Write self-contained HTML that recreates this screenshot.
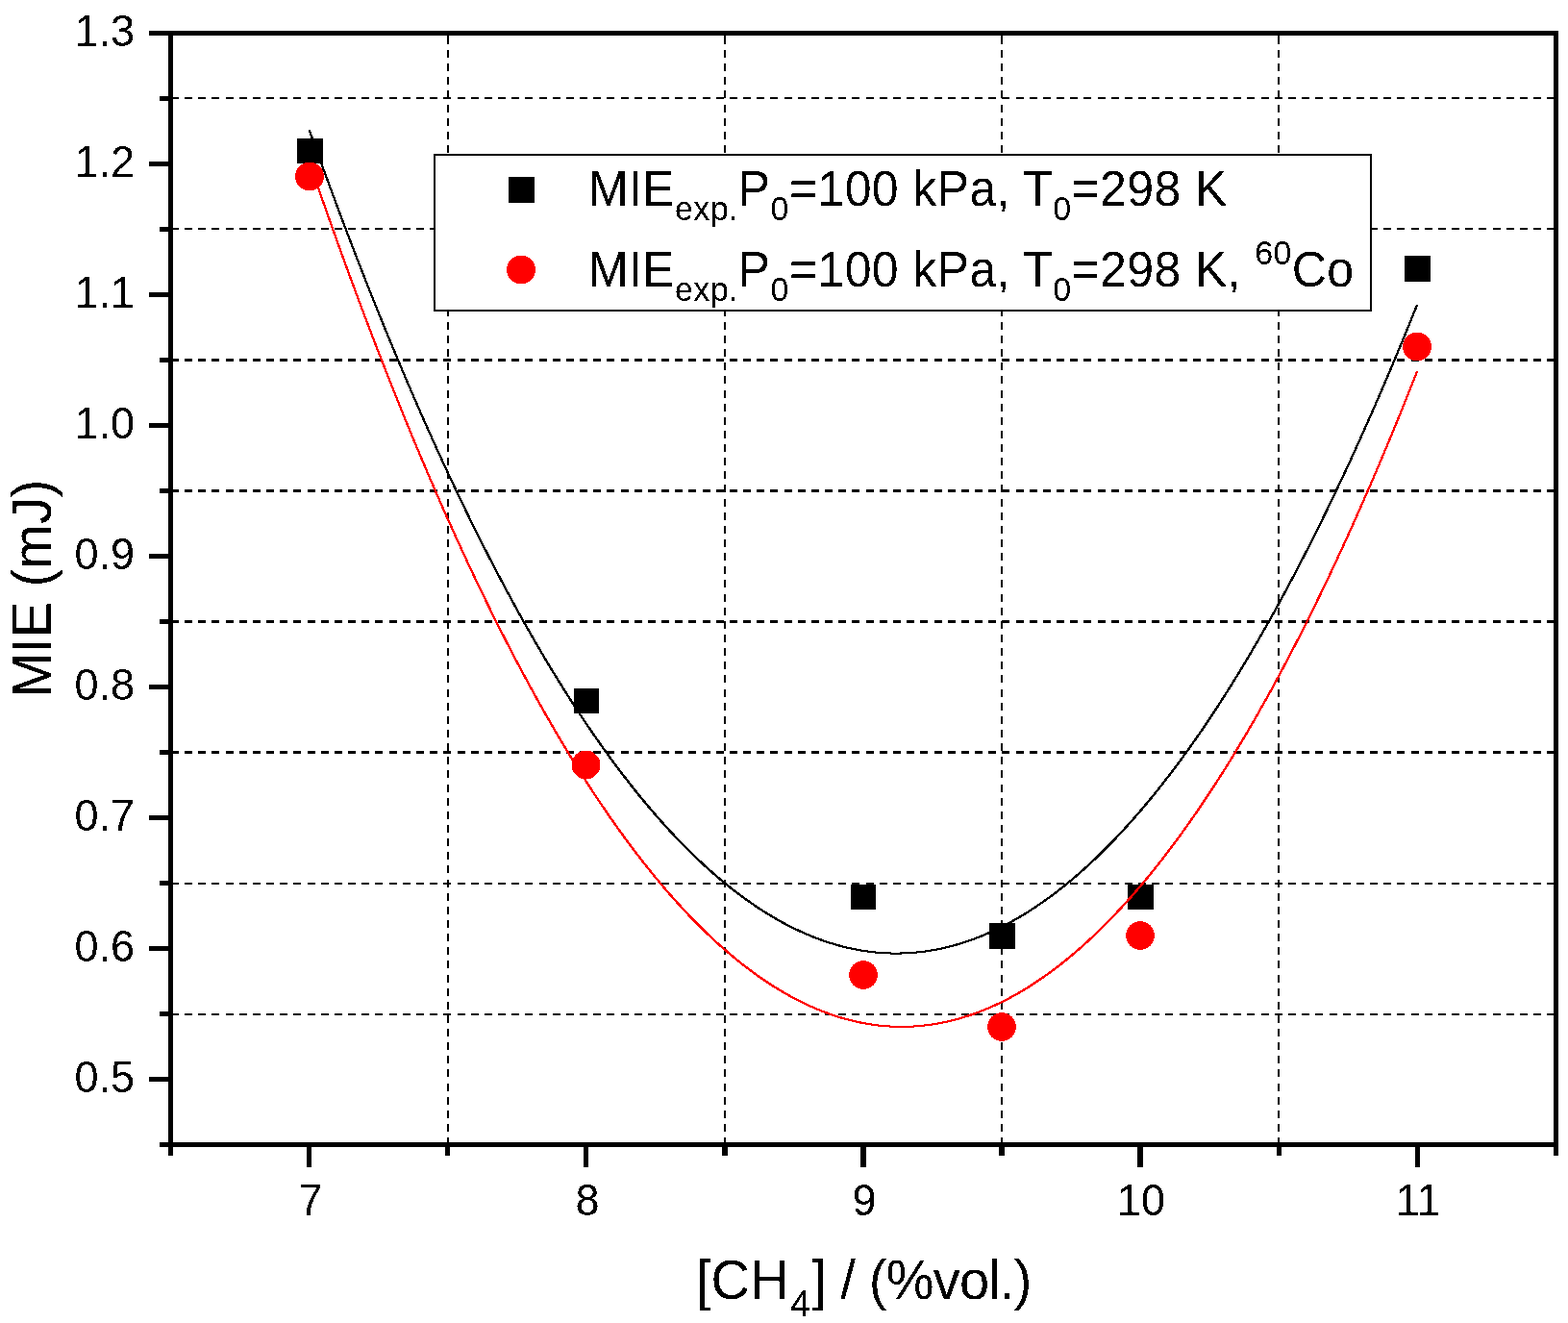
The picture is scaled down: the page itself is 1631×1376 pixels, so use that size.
<!DOCTYPE html>
<html><head><meta charset="utf-8"><title>MIE vs CH4</title><style>html,body{margin:0;padding:0;background:#fff;width:1631px;height:1376px;overflow:hidden}</style></head><body>
<svg width="1631" height="1376" viewBox="0 0 1631 1376" style="position:absolute;left:0;top:0;display:block">
<defs><filter id="bin" x="-5%" y="-5%" width="110%" height="110%"><feComponentTransfer><feFuncA type="discrete" tableValues="0 1"/></feComponentTransfer></filter></defs>
<rect width="1631" height="1376" fill="#fff"/>
<path fill="#000" shape-rendering="crispEdges" d="M180 101h6v2h-6zM192 101h8v2h-8zM206 101h8v2h-8zM220 101h8v2h-8zM235 101h8v2h-8zM249 101h8v2h-8zM263 101h8v2h-8zM277 101h8v2h-8zM291 101h8v2h-8zM305 101h8v2h-8zM320 101h8v2h-8zM334 101h8v2h-8zM348 101h8v2h-8zM362 101h8v2h-8zM376 101h8v2h-8zM390 101h8v2h-8zM405 101h8v2h-8zM419 101h8v2h-8zM433 101h8v2h-8zM447 101h8v2h-8zM461 101h8v2h-8zM476 101h8v2h-8zM490 101h8v2h-8zM504 101h8v2h-8zM518 101h8v2h-8zM532 101h8v2h-8zM546 101h8v2h-8zM561 101h8v2h-8zM575 101h8v2h-8zM589 101h8v2h-8zM603 101h8v2h-8zM617 101h8v2h-8zM631 101h8v2h-8zM646 101h8v2h-8zM660 101h8v2h-8zM674 101h8v2h-8zM688 101h8v2h-8zM702 101h8v2h-8zM716 101h8v2h-8zM731 101h8v2h-8zM745 101h8v2h-8zM759 101h8v2h-8zM773 101h8v2h-8zM787 101h8v2h-8zM801 101h8v2h-8zM816 101h8v2h-8zM830 101h8v2h-8zM844 101h8v2h-8zM858 101h8v2h-8zM872 101h8v2h-8zM886 101h8v2h-8zM901 101h8v2h-8zM915 101h8v2h-8zM929 101h8v2h-8zM943 101h8v2h-8zM957 101h8v2h-8zM972 101h8v2h-8zM986 101h8v2h-8zM1000 101h8v2h-8zM1014 101h8v2h-8zM1028 101h8v2h-8zM1042 101h8v2h-8zM1057 101h8v2h-8zM1071 101h8v2h-8zM1085 101h8v2h-8zM1099 101h8v2h-8zM1113 101h8v2h-8zM1127 101h8v2h-8zM1142 101h8v2h-8zM1156 101h8v2h-8zM1170 101h8v2h-8zM1184 101h8v2h-8zM1198 101h8v2h-8zM1212 101h8v2h-8zM1227 101h8v2h-8zM1241 101h8v2h-8zM1255 101h8v2h-8zM1269 101h8v2h-8zM1283 101h8v2h-8zM1297 101h8v2h-8zM1312 101h8v2h-8zM1326 101h8v2h-8zM1340 101h8v2h-8zM1354 101h8v2h-8zM1368 101h8v2h-8zM1383 101h8v2h-8zM1397 101h8v2h-8zM1411 101h8v2h-8zM1425 101h8v2h-8zM1439 101h8v2h-8zM1453 101h8v2h-8zM1468 101h8v2h-8zM1482 101h8v2h-8zM1496 101h8v2h-8zM1510 101h8v2h-8zM1524 101h8v2h-8zM1538 101h8v2h-8zM1553 101h8v2h-8zM1567 101h8v2h-8zM1581 101h8v2h-8zM1595 101h8v2h-8zM1609 101h7v2h-7zM180 237h6v2h-6zM192 237h8v2h-8zM206 237h8v2h-8zM220 237h8v2h-8zM235 237h8v2h-8zM249 237h8v2h-8zM263 237h8v2h-8zM277 237h8v2h-8zM291 237h8v2h-8zM305 237h8v2h-8zM320 237h8v2h-8zM334 237h8v2h-8zM348 237h8v2h-8zM362 237h8v2h-8zM376 237h8v2h-8zM390 237h8v2h-8zM405 237h8v2h-8zM419 237h8v2h-8zM433 237h8v2h-8zM447 237h8v2h-8zM461 237h8v2h-8zM476 237h8v2h-8zM490 237h8v2h-8zM504 237h8v2h-8zM518 237h8v2h-8zM532 237h8v2h-8zM546 237h8v2h-8zM561 237h8v2h-8zM575 237h8v2h-8zM589 237h8v2h-8zM603 237h8v2h-8zM617 237h8v2h-8zM631 237h8v2h-8zM646 237h8v2h-8zM660 237h8v2h-8zM674 237h8v2h-8zM688 237h8v2h-8zM702 237h8v2h-8zM716 237h8v2h-8zM731 237h8v2h-8zM745 237h8v2h-8zM759 237h8v2h-8zM773 237h8v2h-8zM787 237h8v2h-8zM801 237h8v2h-8zM816 237h8v2h-8zM830 237h8v2h-8zM844 237h8v2h-8zM858 237h8v2h-8zM872 237h8v2h-8zM886 237h8v2h-8zM901 237h8v2h-8zM915 237h8v2h-8zM929 237h8v2h-8zM943 237h8v2h-8zM957 237h8v2h-8zM972 237h8v2h-8zM986 237h8v2h-8zM1000 237h8v2h-8zM1014 237h8v2h-8zM1028 237h8v2h-8zM1042 237h8v2h-8zM1057 237h8v2h-8zM1071 237h8v2h-8zM1085 237h8v2h-8zM1099 237h8v2h-8zM1113 237h8v2h-8zM1127 237h8v2h-8zM1142 237h8v2h-8zM1156 237h8v2h-8zM1170 237h8v2h-8zM1184 237h8v2h-8zM1198 237h8v2h-8zM1212 237h8v2h-8zM1227 237h8v2h-8zM1241 237h8v2h-8zM1255 237h8v2h-8zM1269 237h8v2h-8zM1283 237h8v2h-8zM1297 237h8v2h-8zM1312 237h8v2h-8zM1326 237h8v2h-8zM1340 237h8v2h-8zM1354 237h8v2h-8zM1368 237h8v2h-8zM1383 237h8v2h-8zM1397 237h8v2h-8zM1411 237h8v2h-8zM1425 237h8v2h-8zM1439 237h8v2h-8zM1453 237h8v2h-8zM1468 237h8v2h-8zM1482 237h8v2h-8zM1496 237h8v2h-8zM1510 237h8v2h-8zM1524 237h8v2h-8zM1538 237h8v2h-8zM1553 237h8v2h-8zM1567 237h8v2h-8zM1581 237h8v2h-8zM1595 237h8v2h-8zM1609 237h7v2h-7zM180 373h6v3h-6zM192 373h8v3h-8zM206 373h8v3h-8zM220 373h8v3h-8zM235 373h8v3h-8zM249 373h8v3h-8zM263 373h8v3h-8zM277 373h8v3h-8zM291 373h8v3h-8zM305 373h8v3h-8zM320 373h8v3h-8zM334 373h8v3h-8zM348 373h8v3h-8zM362 373h8v3h-8zM376 373h8v3h-8zM390 373h8v3h-8zM405 373h8v3h-8zM419 373h8v3h-8zM433 373h8v3h-8zM447 373h8v3h-8zM461 373h8v3h-8zM476 373h8v3h-8zM490 373h8v3h-8zM504 373h8v3h-8zM518 373h8v3h-8zM532 373h8v3h-8zM546 373h8v3h-8zM561 373h8v3h-8zM575 373h8v3h-8zM589 373h8v3h-8zM603 373h8v3h-8zM617 373h8v3h-8zM631 373h8v3h-8zM646 373h8v3h-8zM660 373h8v3h-8zM674 373h8v3h-8zM688 373h8v3h-8zM702 373h8v3h-8zM716 373h8v3h-8zM731 373h8v3h-8zM745 373h8v3h-8zM759 373h8v3h-8zM773 373h8v3h-8zM787 373h8v3h-8zM801 373h8v3h-8zM816 373h8v3h-8zM830 373h8v3h-8zM844 373h8v3h-8zM858 373h8v3h-8zM872 373h8v3h-8zM886 373h8v3h-8zM901 373h8v3h-8zM915 373h8v3h-8zM929 373h8v3h-8zM943 373h8v3h-8zM957 373h8v3h-8zM972 373h8v3h-8zM986 373h8v3h-8zM1000 373h8v3h-8zM1014 373h8v3h-8zM1028 373h8v3h-8zM1042 373h8v3h-8zM1057 373h8v3h-8zM1071 373h8v3h-8zM1085 373h8v3h-8zM1099 373h8v3h-8zM1113 373h8v3h-8zM1127 373h8v3h-8zM1142 373h8v3h-8zM1156 373h8v3h-8zM1170 373h8v3h-8zM1184 373h8v3h-8zM1198 373h8v3h-8zM1212 373h8v3h-8zM1227 373h8v3h-8zM1241 373h8v3h-8zM1255 373h8v3h-8zM1269 373h8v3h-8zM1283 373h8v3h-8zM1297 373h8v3h-8zM1312 373h8v3h-8zM1326 373h8v3h-8zM1340 373h8v3h-8zM1354 373h8v3h-8zM1368 373h8v3h-8zM1383 373h8v3h-8zM1397 373h8v3h-8zM1411 373h8v3h-8zM1425 373h8v3h-8zM1439 373h8v3h-8zM1453 373h8v3h-8zM1468 373h8v3h-8zM1482 373h8v3h-8zM1496 373h8v3h-8zM1510 373h8v3h-8zM1524 373h8v3h-8zM1538 373h8v3h-8zM1553 373h8v3h-8zM1567 373h8v3h-8zM1581 373h8v3h-8zM1595 373h8v3h-8zM1609 373h7v3h-7zM180 509h6v3h-6zM192 509h8v3h-8zM206 509h8v3h-8zM220 509h8v3h-8zM235 509h8v3h-8zM249 509h8v3h-8zM263 509h8v3h-8zM277 509h8v3h-8zM291 509h8v3h-8zM305 509h8v3h-8zM320 509h8v3h-8zM334 509h8v3h-8zM348 509h8v3h-8zM362 509h8v3h-8zM376 509h8v3h-8zM390 509h8v3h-8zM405 509h8v3h-8zM419 509h8v3h-8zM433 509h8v3h-8zM447 509h8v3h-8zM461 509h8v3h-8zM476 509h8v3h-8zM490 509h8v3h-8zM504 509h8v3h-8zM518 509h8v3h-8zM532 509h8v3h-8zM546 509h8v3h-8zM561 509h8v3h-8zM575 509h8v3h-8zM589 509h8v3h-8zM603 509h8v3h-8zM617 509h8v3h-8zM631 509h8v3h-8zM646 509h8v3h-8zM660 509h8v3h-8zM674 509h8v3h-8zM688 509h8v3h-8zM702 509h8v3h-8zM716 509h8v3h-8zM731 509h8v3h-8zM745 509h8v3h-8zM759 509h8v3h-8zM773 509h8v3h-8zM787 509h8v3h-8zM801 509h8v3h-8zM816 509h8v3h-8zM830 509h8v3h-8zM844 509h8v3h-8zM858 509h8v3h-8zM872 509h8v3h-8zM886 509h8v3h-8zM901 509h8v3h-8zM915 509h8v3h-8zM929 509h8v3h-8zM943 509h8v3h-8zM957 509h8v3h-8zM972 509h8v3h-8zM986 509h8v3h-8zM1000 509h8v3h-8zM1014 509h8v3h-8zM1028 509h8v3h-8zM1042 509h8v3h-8zM1057 509h8v3h-8zM1071 509h8v3h-8zM1085 509h8v3h-8zM1099 509h8v3h-8zM1113 509h8v3h-8zM1127 509h8v3h-8zM1142 509h8v3h-8zM1156 509h8v3h-8zM1170 509h8v3h-8zM1184 509h8v3h-8zM1198 509h8v3h-8zM1212 509h8v3h-8zM1227 509h8v3h-8zM1241 509h8v3h-8zM1255 509h8v3h-8zM1269 509h8v3h-8zM1283 509h8v3h-8zM1297 509h8v3h-8zM1312 509h8v3h-8zM1326 509h8v3h-8zM1340 509h8v3h-8zM1354 509h8v3h-8zM1368 509h8v3h-8zM1383 509h8v3h-8zM1397 509h8v3h-8zM1411 509h8v3h-8zM1425 509h8v3h-8zM1439 509h8v3h-8zM1453 509h8v3h-8zM1468 509h8v3h-8zM1482 509h8v3h-8zM1496 509h8v3h-8zM1510 509h8v3h-8zM1524 509h8v3h-8zM1538 509h8v3h-8zM1553 509h8v3h-8zM1567 509h8v3h-8zM1581 509h8v3h-8zM1595 509h8v3h-8zM1609 509h7v3h-7zM180 645h6v3h-6zM192 645h8v3h-8zM206 645h8v3h-8zM220 645h8v3h-8zM235 645h8v3h-8zM249 645h8v3h-8zM263 645h8v3h-8zM277 645h8v3h-8zM291 645h8v3h-8zM305 645h8v3h-8zM320 645h8v3h-8zM334 645h8v3h-8zM348 645h8v3h-8zM362 645h8v3h-8zM376 645h8v3h-8zM390 645h8v3h-8zM405 645h8v3h-8zM419 645h8v3h-8zM433 645h8v3h-8zM447 645h8v3h-8zM461 645h8v3h-8zM476 645h8v3h-8zM490 645h8v3h-8zM504 645h8v3h-8zM518 645h8v3h-8zM532 645h8v3h-8zM546 645h8v3h-8zM561 645h8v3h-8zM575 645h8v3h-8zM589 645h8v3h-8zM603 645h8v3h-8zM617 645h8v3h-8zM631 645h8v3h-8zM646 645h8v3h-8zM660 645h8v3h-8zM674 645h8v3h-8zM688 645h8v3h-8zM702 645h8v3h-8zM716 645h8v3h-8zM731 645h8v3h-8zM745 645h8v3h-8zM759 645h8v3h-8zM773 645h8v3h-8zM787 645h8v3h-8zM801 645h8v3h-8zM816 645h8v3h-8zM830 645h8v3h-8zM844 645h8v3h-8zM858 645h8v3h-8zM872 645h8v3h-8zM886 645h8v3h-8zM901 645h8v3h-8zM915 645h8v3h-8zM929 645h8v3h-8zM943 645h8v3h-8zM957 645h8v3h-8zM972 645h8v3h-8zM986 645h8v3h-8zM1000 645h8v3h-8zM1014 645h8v3h-8zM1028 645h8v3h-8zM1042 645h8v3h-8zM1057 645h8v3h-8zM1071 645h8v3h-8zM1085 645h8v3h-8zM1099 645h8v3h-8zM1113 645h8v3h-8zM1127 645h8v3h-8zM1142 645h8v3h-8zM1156 645h8v3h-8zM1170 645h8v3h-8zM1184 645h8v3h-8zM1198 645h8v3h-8zM1212 645h8v3h-8zM1227 645h8v3h-8zM1241 645h8v3h-8zM1255 645h8v3h-8zM1269 645h8v3h-8zM1283 645h8v3h-8zM1297 645h8v3h-8zM1312 645h8v3h-8zM1326 645h8v3h-8zM1340 645h8v3h-8zM1354 645h8v3h-8zM1368 645h8v3h-8zM1383 645h8v3h-8zM1397 645h8v3h-8zM1411 645h8v3h-8zM1425 645h8v3h-8zM1439 645h8v3h-8zM1453 645h8v3h-8zM1468 645h8v3h-8zM1482 645h8v3h-8zM1496 645h8v3h-8zM1510 645h8v3h-8zM1524 645h8v3h-8zM1538 645h8v3h-8zM1553 645h8v3h-8zM1567 645h8v3h-8zM1581 645h8v3h-8zM1595 645h8v3h-8zM1609 645h7v3h-7zM180 781h6v3h-6zM192 781h8v3h-8zM206 781h8v3h-8zM220 781h8v3h-8zM235 781h8v3h-8zM249 781h8v3h-8zM263 781h8v3h-8zM277 781h8v3h-8zM291 781h8v3h-8zM305 781h8v3h-8zM320 781h8v3h-8zM334 781h8v3h-8zM348 781h8v3h-8zM362 781h8v3h-8zM376 781h8v3h-8zM390 781h8v3h-8zM405 781h8v3h-8zM419 781h8v3h-8zM433 781h8v3h-8zM447 781h8v3h-8zM461 781h8v3h-8zM476 781h8v3h-8zM490 781h8v3h-8zM504 781h8v3h-8zM518 781h8v3h-8zM532 781h8v3h-8zM546 781h8v3h-8zM561 781h8v3h-8zM575 781h8v3h-8zM589 781h8v3h-8zM603 781h8v3h-8zM617 781h8v3h-8zM631 781h8v3h-8zM646 781h8v3h-8zM660 781h8v3h-8zM674 781h8v3h-8zM688 781h8v3h-8zM702 781h8v3h-8zM716 781h8v3h-8zM731 781h8v3h-8zM745 781h8v3h-8zM759 781h8v3h-8zM773 781h8v3h-8zM787 781h8v3h-8zM801 781h8v3h-8zM816 781h8v3h-8zM830 781h8v3h-8zM844 781h8v3h-8zM858 781h8v3h-8zM872 781h8v3h-8zM886 781h8v3h-8zM901 781h8v3h-8zM915 781h8v3h-8zM929 781h8v3h-8zM943 781h8v3h-8zM957 781h8v3h-8zM972 781h8v3h-8zM986 781h8v3h-8zM1000 781h8v3h-8zM1014 781h8v3h-8zM1028 781h8v3h-8zM1042 781h8v3h-8zM1057 781h8v3h-8zM1071 781h8v3h-8zM1085 781h8v3h-8zM1099 781h8v3h-8zM1113 781h8v3h-8zM1127 781h8v3h-8zM1142 781h8v3h-8zM1156 781h8v3h-8zM1170 781h8v3h-8zM1184 781h8v3h-8zM1198 781h8v3h-8zM1212 781h8v3h-8zM1227 781h8v3h-8zM1241 781h8v3h-8zM1255 781h8v3h-8zM1269 781h8v3h-8zM1283 781h8v3h-8zM1297 781h8v3h-8zM1312 781h8v3h-8zM1326 781h8v3h-8zM1340 781h8v3h-8zM1354 781h8v3h-8zM1368 781h8v3h-8zM1383 781h8v3h-8zM1397 781h8v3h-8zM1411 781h8v3h-8zM1425 781h8v3h-8zM1439 781h8v3h-8zM1453 781h8v3h-8zM1468 781h8v3h-8zM1482 781h8v3h-8zM1496 781h8v3h-8zM1510 781h8v3h-8zM1524 781h8v3h-8zM1538 781h8v3h-8zM1553 781h8v3h-8zM1567 781h8v3h-8zM1581 781h8v3h-8zM1595 781h8v3h-8zM1609 781h7v3h-7zM180 918h6v2h-6zM192 918h8v2h-8zM206 918h8v2h-8zM220 918h8v2h-8zM235 918h8v2h-8zM249 918h8v2h-8zM263 918h8v2h-8zM277 918h8v2h-8zM291 918h8v2h-8zM305 918h8v2h-8zM320 918h8v2h-8zM334 918h8v2h-8zM348 918h8v2h-8zM362 918h8v2h-8zM376 918h8v2h-8zM390 918h8v2h-8zM405 918h8v2h-8zM419 918h8v2h-8zM433 918h8v2h-8zM447 918h8v2h-8zM461 918h8v2h-8zM476 918h8v2h-8zM490 918h8v2h-8zM504 918h8v2h-8zM518 918h8v2h-8zM532 918h8v2h-8zM546 918h8v2h-8zM561 918h8v2h-8zM575 918h8v2h-8zM589 918h8v2h-8zM603 918h8v2h-8zM617 918h8v2h-8zM631 918h8v2h-8zM646 918h8v2h-8zM660 918h8v2h-8zM674 918h8v2h-8zM688 918h8v2h-8zM702 918h8v2h-8zM716 918h8v2h-8zM731 918h8v2h-8zM745 918h8v2h-8zM759 918h8v2h-8zM773 918h8v2h-8zM787 918h8v2h-8zM801 918h8v2h-8zM816 918h8v2h-8zM830 918h8v2h-8zM844 918h8v2h-8zM858 918h8v2h-8zM872 918h8v2h-8zM886 918h8v2h-8zM901 918h8v2h-8zM915 918h8v2h-8zM929 918h8v2h-8zM943 918h8v2h-8zM957 918h8v2h-8zM972 918h8v2h-8zM986 918h8v2h-8zM1000 918h8v2h-8zM1014 918h8v2h-8zM1028 918h8v2h-8zM1042 918h8v2h-8zM1057 918h8v2h-8zM1071 918h8v2h-8zM1085 918h8v2h-8zM1099 918h8v2h-8zM1113 918h8v2h-8zM1127 918h8v2h-8zM1142 918h8v2h-8zM1156 918h8v2h-8zM1170 918h8v2h-8zM1184 918h8v2h-8zM1198 918h8v2h-8zM1212 918h8v2h-8zM1227 918h8v2h-8zM1241 918h8v2h-8zM1255 918h8v2h-8zM1269 918h8v2h-8zM1283 918h8v2h-8zM1297 918h8v2h-8zM1312 918h8v2h-8zM1326 918h8v2h-8zM1340 918h8v2h-8zM1354 918h8v2h-8zM1368 918h8v2h-8zM1383 918h8v2h-8zM1397 918h8v2h-8zM1411 918h8v2h-8zM1425 918h8v2h-8zM1439 918h8v2h-8zM1453 918h8v2h-8zM1468 918h8v2h-8zM1482 918h8v2h-8zM1496 918h8v2h-8zM1510 918h8v2h-8zM1524 918h8v2h-8zM1538 918h8v2h-8zM1553 918h8v2h-8zM1567 918h8v2h-8zM1581 918h8v2h-8zM1595 918h8v2h-8zM1609 918h7v2h-7zM180 1054h6v2h-6zM192 1054h8v2h-8zM206 1054h8v2h-8zM220 1054h8v2h-8zM235 1054h8v2h-8zM249 1054h8v2h-8zM263 1054h8v2h-8zM277 1054h8v2h-8zM291 1054h8v2h-8zM305 1054h8v2h-8zM320 1054h8v2h-8zM334 1054h8v2h-8zM348 1054h8v2h-8zM362 1054h8v2h-8zM376 1054h8v2h-8zM390 1054h8v2h-8zM405 1054h8v2h-8zM419 1054h8v2h-8zM433 1054h8v2h-8zM447 1054h8v2h-8zM461 1054h8v2h-8zM476 1054h8v2h-8zM490 1054h8v2h-8zM504 1054h8v2h-8zM518 1054h8v2h-8zM532 1054h8v2h-8zM546 1054h8v2h-8zM561 1054h8v2h-8zM575 1054h8v2h-8zM589 1054h8v2h-8zM603 1054h8v2h-8zM617 1054h8v2h-8zM631 1054h8v2h-8zM646 1054h8v2h-8zM660 1054h8v2h-8zM674 1054h8v2h-8zM688 1054h8v2h-8zM702 1054h8v2h-8zM716 1054h8v2h-8zM731 1054h8v2h-8zM745 1054h8v2h-8zM759 1054h8v2h-8zM773 1054h8v2h-8zM787 1054h8v2h-8zM801 1054h8v2h-8zM816 1054h8v2h-8zM830 1054h8v2h-8zM844 1054h8v2h-8zM858 1054h8v2h-8zM872 1054h8v2h-8zM886 1054h8v2h-8zM901 1054h8v2h-8zM915 1054h8v2h-8zM929 1054h8v2h-8zM943 1054h8v2h-8zM957 1054h8v2h-8zM972 1054h8v2h-8zM986 1054h8v2h-8zM1000 1054h8v2h-8zM1014 1054h8v2h-8zM1028 1054h8v2h-8zM1042 1054h8v2h-8zM1057 1054h8v2h-8zM1071 1054h8v2h-8zM1085 1054h8v2h-8zM1099 1054h8v2h-8zM1113 1054h8v2h-8zM1127 1054h8v2h-8zM1142 1054h8v2h-8zM1156 1054h8v2h-8zM1170 1054h8v2h-8zM1184 1054h8v2h-8zM1198 1054h8v2h-8zM1212 1054h8v2h-8zM1227 1054h8v2h-8zM1241 1054h8v2h-8zM1255 1054h8v2h-8zM1269 1054h8v2h-8zM1283 1054h8v2h-8zM1297 1054h8v2h-8zM1312 1054h8v2h-8zM1326 1054h8v2h-8zM1340 1054h8v2h-8zM1354 1054h8v2h-8zM1368 1054h8v2h-8zM1383 1054h8v2h-8zM1397 1054h8v2h-8zM1411 1054h8v2h-8zM1425 1054h8v2h-8zM1439 1054h8v2h-8zM1453 1054h8v2h-8zM1468 1054h8v2h-8zM1482 1054h8v2h-8zM1496 1054h8v2h-8zM1510 1054h8v2h-8zM1524 1054h8v2h-8zM1538 1054h8v2h-8zM1553 1054h8v2h-8zM1567 1054h8v2h-8zM1581 1054h8v2h-8zM1595 1054h8v2h-8zM1609 1054h7v2h-7zM465 37h2v9h-2zM465 52h2v8h-2zM465 66h2v8h-2zM465 80h2v8h-2zM465 94h2v8h-2zM465 109h2v8h-2zM465 123h2v8h-2zM465 137h2v8h-2zM465 151h2v8h-2zM465 165h2v8h-2zM465 179h2v8h-2zM465 193h2v8h-2zM465 208h2v8h-2zM465 222h2v8h-2zM465 236h2v8h-2zM465 250h2v8h-2zM465 264h2v8h-2zM465 278h2v8h-2zM465 292h2v8h-2zM465 307h2v8h-2zM465 321h2v8h-2zM465 335h2v8h-2zM465 349h2v8h-2zM465 363h2v8h-2zM465 377h2v8h-2zM465 391h2v8h-2zM465 406h2v8h-2zM465 420h2v8h-2zM465 434h2v8h-2zM465 448h2v8h-2zM465 462h2v8h-2zM465 476h2v8h-2zM465 490h2v8h-2zM465 504h2v8h-2zM465 519h2v8h-2zM465 533h2v8h-2zM465 547h2v8h-2zM465 561h2v8h-2zM465 575h2v8h-2zM465 589h2v8h-2zM465 603h2v8h-2zM465 618h2v8h-2zM465 632h2v8h-2zM465 646h2v8h-2zM465 660h2v8h-2zM465 674h2v8h-2zM465 688h2v8h-2zM465 702h2v8h-2zM465 717h2v8h-2zM465 731h2v8h-2zM465 745h2v8h-2zM465 759h2v8h-2zM465 773h2v8h-2zM465 787h2v8h-2zM465 801h2v8h-2zM465 816h2v8h-2zM465 830h2v8h-2zM465 844h2v8h-2zM465 858h2v8h-2zM465 872h2v8h-2zM465 886h2v8h-2zM465 900h2v8h-2zM465 915h2v8h-2zM465 929h2v8h-2zM465 943h2v8h-2zM465 957h2v8h-2zM465 971h2v8h-2zM465 985h2v8h-2zM465 999h2v8h-2zM465 1014h2v8h-2zM465 1028h2v8h-2zM465 1042h2v8h-2zM465 1056h2v8h-2zM465 1070h2v8h-2zM465 1084h2v8h-2zM465 1098h2v8h-2zM465 1112h2v8h-2zM465 1127h2v8h-2zM465 1141h2v8h-2zM465 1155h2v8h-2zM465 1169h2v8h-2zM465 1183h2v5h-2zM753 37h2v9h-2zM753 52h2v8h-2zM753 66h2v8h-2zM753 80h2v8h-2zM753 94h2v8h-2zM753 109h2v8h-2zM753 123h2v8h-2zM753 137h2v8h-2zM753 151h2v8h-2zM753 165h2v8h-2zM753 179h2v8h-2zM753 193h2v8h-2zM753 208h2v8h-2zM753 222h2v8h-2zM753 236h2v8h-2zM753 250h2v8h-2zM753 264h2v8h-2zM753 278h2v8h-2zM753 292h2v8h-2zM753 307h2v8h-2zM753 321h2v8h-2zM753 335h2v8h-2zM753 349h2v8h-2zM753 363h2v8h-2zM753 377h2v8h-2zM753 391h2v8h-2zM753 406h2v8h-2zM753 420h2v8h-2zM753 434h2v8h-2zM753 448h2v8h-2zM753 462h2v8h-2zM753 476h2v8h-2zM753 490h2v8h-2zM753 504h2v8h-2zM753 519h2v8h-2zM753 533h2v8h-2zM753 547h2v8h-2zM753 561h2v8h-2zM753 575h2v8h-2zM753 589h2v8h-2zM753 603h2v8h-2zM753 618h2v8h-2zM753 632h2v8h-2zM753 646h2v8h-2zM753 660h2v8h-2zM753 674h2v8h-2zM753 688h2v8h-2zM753 702h2v8h-2zM753 717h2v8h-2zM753 731h2v8h-2zM753 745h2v8h-2zM753 759h2v8h-2zM753 773h2v8h-2zM753 787h2v8h-2zM753 801h2v8h-2zM753 816h2v8h-2zM753 830h2v8h-2zM753 844h2v8h-2zM753 858h2v8h-2zM753 872h2v8h-2zM753 886h2v8h-2zM753 900h2v8h-2zM753 915h2v8h-2zM753 929h2v8h-2zM753 943h2v8h-2zM753 957h2v8h-2zM753 971h2v8h-2zM753 985h2v8h-2zM753 999h2v8h-2zM753 1014h2v8h-2zM753 1028h2v8h-2zM753 1042h2v8h-2zM753 1056h2v8h-2zM753 1070h2v8h-2zM753 1084h2v8h-2zM753 1098h2v8h-2zM753 1112h2v8h-2zM753 1127h2v8h-2zM753 1141h2v8h-2zM753 1155h2v8h-2zM753 1169h2v8h-2zM753 1183h2v5h-2zM1041 37h2v9h-2zM1041 52h2v8h-2zM1041 66h2v8h-2zM1041 80h2v8h-2zM1041 94h2v8h-2zM1041 109h2v8h-2zM1041 123h2v8h-2zM1041 137h2v8h-2zM1041 151h2v8h-2zM1041 165h2v8h-2zM1041 179h2v8h-2zM1041 193h2v8h-2zM1041 208h2v8h-2zM1041 222h2v8h-2zM1041 236h2v8h-2zM1041 250h2v8h-2zM1041 264h2v8h-2zM1041 278h2v8h-2zM1041 292h2v8h-2zM1041 307h2v8h-2zM1041 321h2v8h-2zM1041 335h2v8h-2zM1041 349h2v8h-2zM1041 363h2v8h-2zM1041 377h2v8h-2zM1041 391h2v8h-2zM1041 406h2v8h-2zM1041 420h2v8h-2zM1041 434h2v8h-2zM1041 448h2v8h-2zM1041 462h2v8h-2zM1041 476h2v8h-2zM1041 490h2v8h-2zM1041 504h2v8h-2zM1041 519h2v8h-2zM1041 533h2v8h-2zM1041 547h2v8h-2zM1041 561h2v8h-2zM1041 575h2v8h-2zM1041 589h2v8h-2zM1041 603h2v8h-2zM1041 618h2v8h-2zM1041 632h2v8h-2zM1041 646h2v8h-2zM1041 660h2v8h-2zM1041 674h2v8h-2zM1041 688h2v8h-2zM1041 702h2v8h-2zM1041 717h2v8h-2zM1041 731h2v8h-2zM1041 745h2v8h-2zM1041 759h2v8h-2zM1041 773h2v8h-2zM1041 787h2v8h-2zM1041 801h2v8h-2zM1041 816h2v8h-2zM1041 830h2v8h-2zM1041 844h2v8h-2zM1041 858h2v8h-2zM1041 872h2v8h-2zM1041 886h2v8h-2zM1041 900h2v8h-2zM1041 915h2v8h-2zM1041 929h2v8h-2zM1041 943h2v8h-2zM1041 957h2v8h-2zM1041 971h2v8h-2zM1041 985h2v8h-2zM1041 999h2v8h-2zM1041 1014h2v8h-2zM1041 1028h2v8h-2zM1041 1042h2v8h-2zM1041 1056h2v8h-2zM1041 1070h2v8h-2zM1041 1084h2v8h-2zM1041 1098h2v8h-2zM1041 1112h2v8h-2zM1041 1127h2v8h-2zM1041 1141h2v8h-2zM1041 1155h2v8h-2zM1041 1169h2v8h-2zM1041 1183h2v5h-2zM1329 37h2v9h-2zM1329 52h2v8h-2zM1329 66h2v8h-2zM1329 80h2v8h-2zM1329 94h2v8h-2zM1329 109h2v8h-2zM1329 123h2v8h-2zM1329 137h2v8h-2zM1329 151h2v8h-2zM1329 165h2v8h-2zM1329 179h2v8h-2zM1329 193h2v8h-2zM1329 208h2v8h-2zM1329 222h2v8h-2zM1329 236h2v8h-2zM1329 250h2v8h-2zM1329 264h2v8h-2zM1329 278h2v8h-2zM1329 292h2v8h-2zM1329 307h2v8h-2zM1329 321h2v8h-2zM1329 335h2v8h-2zM1329 349h2v8h-2zM1329 363h2v8h-2zM1329 377h2v8h-2zM1329 391h2v8h-2zM1329 406h2v8h-2zM1329 420h2v8h-2zM1329 434h2v8h-2zM1329 448h2v8h-2zM1329 462h2v8h-2zM1329 476h2v8h-2zM1329 490h2v8h-2zM1329 504h2v8h-2zM1329 519h2v8h-2zM1329 533h2v8h-2zM1329 547h2v8h-2zM1329 561h2v8h-2zM1329 575h2v8h-2zM1329 589h2v8h-2zM1329 603h2v8h-2zM1329 618h2v8h-2zM1329 632h2v8h-2zM1329 646h2v8h-2zM1329 660h2v8h-2zM1329 674h2v8h-2zM1329 688h2v8h-2zM1329 702h2v8h-2zM1329 717h2v8h-2zM1329 731h2v8h-2zM1329 745h2v8h-2zM1329 759h2v8h-2zM1329 773h2v8h-2zM1329 787h2v8h-2zM1329 801h2v8h-2zM1329 816h2v8h-2zM1329 830h2v8h-2zM1329 844h2v8h-2zM1329 858h2v8h-2zM1329 872h2v8h-2zM1329 886h2v8h-2zM1329 900h2v8h-2zM1329 915h2v8h-2zM1329 929h2v8h-2zM1329 943h2v8h-2zM1329 957h2v8h-2zM1329 971h2v8h-2zM1329 985h2v8h-2zM1329 999h2v8h-2zM1329 1014h2v8h-2zM1329 1028h2v8h-2zM1329 1042h2v8h-2zM1329 1056h2v8h-2zM1329 1070h2v8h-2zM1329 1084h2v8h-2zM1329 1098h2v8h-2zM1329 1112h2v8h-2zM1329 1127h2v8h-2zM1329 1141h2v8h-2zM1329 1155h2v8h-2zM1329 1169h2v8h-2zM1329 1183h2v5h-2z"/>
<rect x="309" y="144" width="27" height="26" fill="#000"/>
<rect x="597" y="716" width="26" height="26" fill="#000"/>
<rect x="885" y="920" width="26" height="26" fill="#000"/>
<rect x="1029" y="960" width="27" height="27" fill="#000"/>
<rect x="1173" y="920" width="27" height="26" fill="#000"/>
<rect x="1461" y="266" width="27" height="27" fill="#000"/>
<circle cx="322" cy="183.5" r="14.9" fill="#f00" shape-rendering="crispEdges"/>
<circle cx="609.5" cy="795.5" r="14.9" fill="#f00" shape-rendering="crispEdges"/>
<circle cx="898" cy="1014" r="14.9" fill="#f00" shape-rendering="crispEdges"/>
<circle cx="1042" cy="1068" r="14.9" fill="#f00" shape-rendering="crispEdges"/>
<circle cx="1186" cy="973" r="14.9" fill="#f00" shape-rendering="crispEdges"/>
<circle cx="1474" cy="360.5" r="14.9" fill="#f00" shape-rendering="crispEdges"/>
<path id="cr" d="M322.00,168.41 L329.20,189.30 L336.40,209.95 L343.60,230.36 L350.80,250.51 L358.00,270.42 L365.20,290.09 L372.40,309.51 L379.60,328.68 L386.80,347.61 L394.00,366.29 L401.20,384.73 L408.40,402.92 L415.60,420.87 L422.80,438.57 L430.00,456.02 L437.20,473.23 L444.40,490.19 L451.60,506.91 L458.80,523.38 L466.00,539.60 L473.20,555.58 L480.40,571.32 L487.60,586.80 L494.80,602.05 L502.00,617.04 L509.20,631.79 L516.40,646.30 L523.60,660.56 L530.80,674.57 L538.00,688.34 L545.20,701.86 L552.40,715.14 L559.60,728.17 L566.80,740.95 L574.00,753.49 L581.20,765.79 L588.40,777.83 L595.60,789.64 L602.80,801.19 L610.00,812.50 L617.20,823.57 L624.40,834.39 L631.60,844.96 L638.80,855.29 L646.00,865.37 L653.20,875.21 L660.40,884.80 L667.60,894.14 L674.80,903.24 L682.00,912.09 L689.20,920.70 L696.40,929.06 L703.60,937.18 L710.80,945.05 L718.00,952.68 L725.20,960.05 L732.40,967.19 L739.60,974.07 L746.80,980.72 L754.00,987.11 L761.20,993.26 L768.40,999.17 L775.60,1004.83 L782.80,1010.24 L790.00,1015.41 L797.20,1020.33 L804.40,1025.00 L811.60,1029.44 L818.80,1033.62 L826.00,1037.56 L833.20,1041.25 L840.40,1044.70 L847.60,1047.90 L854.80,1050.86 L862.00,1053.57 L869.20,1056.03 L876.40,1058.25 L883.60,1060.22 L890.80,1061.95 L898.00,1063.43 L905.20,1064.67 L912.40,1065.66 L919.60,1066.40 L926.80,1066.90 L934.00,1067.15 L941.20,1067.16 L948.40,1066.92 L955.60,1066.44 L962.80,1065.71 L970.00,1064.73 L977.20,1063.51 L984.40,1062.04 L991.60,1060.33 L998.80,1058.37 L1006.00,1056.17 L1013.20,1053.72 L1020.40,1051.02 L1027.60,1048.08 L1034.80,1044.89 L1042.00,1041.46 L1049.20,1037.78 L1056.40,1033.86 L1063.60,1029.69 L1070.80,1025.27 L1078.00,1020.61 L1085.20,1015.70 L1092.40,1010.55 L1099.60,1005.15 L1106.80,999.50 L1114.00,993.61 L1121.20,987.48 L1128.40,981.10 L1135.60,974.47 L1142.80,967.60 L1150.00,960.48 L1157.20,953.11 L1164.40,945.50 L1171.60,937.65 L1178.80,929.54 L1186.00,921.20 L1193.20,912.60 L1200.40,903.76 L1207.60,894.68 L1214.80,885.35 L1222.00,875.77 L1229.20,865.95 L1236.40,855.88 L1243.60,845.57 L1250.80,835.01 L1258.00,824.21 L1265.20,813.16 L1272.40,801.86 L1279.60,790.32 L1286.80,778.53 L1294.00,766.50 L1301.20,754.22 L1308.40,741.69 L1315.60,728.92 L1322.80,715.91 L1330.00,702.64 L1337.20,689.14 L1344.40,675.38 L1351.60,661.38 L1358.80,647.14 L1366.00,632.65 L1373.20,617.91 L1380.40,602.93 L1387.60,587.70 L1394.80,572.23 L1402.00,556.51 L1409.20,540.54 L1416.40,524.33 L1423.60,507.87 L1430.80,491.17 L1438.00,474.22 L1445.20,457.03 L1452.40,439.59 L1459.60,421.91 L1466.80,403.98 L1474.00,385.80" fill="none" stroke="#f00" stroke-width="1" shape-rendering="crispEdges" transform="translate(-0.5,0.19999999999999996)"/><use href="#cr" transform="translate(1,0)"/><use href="#cr" transform="translate(0,1)"/><use href="#cr" transform="translate(1,1)"/>
<path id="cb" d="M322.00,135.21 L329.20,155.28 L336.40,175.11 L343.60,194.71 L350.80,214.06 L358.00,233.18 L365.20,252.06 L372.40,270.71 L379.60,289.11 L386.80,307.28 L394.00,325.21 L401.20,342.90 L408.40,360.35 L415.60,377.56 L422.80,394.54 L430.00,411.27 L437.20,427.77 L444.40,444.03 L451.60,460.05 L458.80,475.84 L466.00,491.38 L473.20,506.69 L480.40,521.76 L487.60,536.59 L494.80,551.19 L502.00,565.54 L509.20,579.66 L516.40,593.53 L523.60,607.17 L530.80,620.58 L538.00,633.74 L545.20,646.67 L552.40,659.35 L559.60,671.80 L566.80,684.01 L574.00,695.98 L581.20,707.72 L588.40,719.22 L595.60,730.47 L602.80,741.49 L610.00,752.27 L617.20,762.82 L624.40,773.12 L631.60,783.19 L638.80,793.02 L646.00,802.61 L653.20,811.96 L660.40,821.07 L667.60,829.95 L674.80,838.59 L682.00,846.99 L689.20,855.15 L696.40,863.07 L703.60,870.75 L710.80,878.20 L718.00,885.41 L725.20,892.38 L732.40,899.11 L739.60,905.60 L746.80,911.86 L754.00,917.88 L761.20,923.66 L768.40,929.20 L775.60,934.50 L782.80,939.56 L790.00,944.39 L797.20,948.98 L804.40,953.33 L811.60,957.44 L818.80,961.31 L826.00,964.94 L833.20,968.34 L840.40,971.50 L847.60,974.42 L854.80,977.10 L862.00,979.54 L869.20,981.75 L876.40,983.72 L883.60,985.45 L890.80,986.94 L898.00,988.19 L905.20,989.20 L912.40,989.98 L919.60,990.52 L926.80,990.82 L934.00,990.88 L941.20,990.70 L948.40,990.29 L955.60,989.63 L962.80,988.74 L970.00,987.61 L977.20,986.25 L984.40,984.64 L991.60,982.80 L998.80,980.71 L1006.00,978.39 L1013.20,975.83 L1020.40,973.04 L1027.60,970.00 L1034.80,966.73 L1042.00,963.22 L1049.20,959.47 L1056.40,955.48 L1063.60,951.25 L1070.80,946.79 L1078.00,942.08 L1085.20,937.14 L1092.40,931.96 L1099.60,926.55 L1106.80,920.89 L1114.00,915.00 L1121.20,908.86 L1128.40,902.49 L1135.60,895.88 L1142.80,889.04 L1150.00,881.95 L1157.20,874.63 L1164.40,867.07 L1171.60,859.27 L1178.80,851.23 L1186.00,842.95 L1193.20,834.44 L1200.40,825.69 L1207.60,816.69 L1214.80,807.47 L1222.00,798.00 L1229.20,788.29 L1236.40,778.35 L1243.60,768.17 L1250.80,757.75 L1258.00,747.09 L1265.20,736.19 L1272.40,725.06 L1279.60,713.68 L1286.80,702.07 L1294.00,690.22 L1301.20,678.13 L1308.40,665.81 L1315.60,653.24 L1322.80,640.44 L1330.00,627.40 L1337.20,614.12 L1344.40,600.61 L1351.60,586.85 L1358.80,572.86 L1366.00,558.62 L1373.20,544.15 L1380.40,529.45 L1387.60,514.50 L1394.80,499.32 L1402.00,483.89 L1409.20,468.23 L1416.40,452.33 L1423.60,436.19 L1430.80,419.82 L1438.00,403.21 L1445.20,386.35 L1452.40,369.26 L1459.60,351.93 L1466.80,334.37 L1474.00,316.56" fill="none" stroke="#000" stroke-width="1" shape-rendering="crispEdges" transform="translate(-0.5,0.19999999999999996)"/><use href="#cb" transform="translate(1,0)"/><use href="#cb" transform="translate(0,1)"/><use href="#cb" transform="translate(1,1)"/>
<g fill="#000" shape-rendering="crispEdges"><rect x="175" y="32" width="5" height="1170"/><rect x="1616" y="32" width="5" height="1170"/><rect x="155" y="32" width="1466" height="5"/><rect x="166" y="1188" width="1455" height="5"/><rect x="155" y="168" width="21" height="5"/><rect x="155" y="304" width="21" height="5"/><rect x="155" y="440" width="21" height="5"/><rect x="155" y="576" width="21" height="5"/><rect x="155" y="712" width="21" height="5"/><rect x="155" y="848" width="21" height="5"/><rect x="155" y="984" width="21" height="5"/><rect x="155" y="1120" width="21" height="5"/><rect x="166" y="100" width="10" height="5"/><rect x="166" y="236" width="10" height="5"/><rect x="166" y="372" width="10" height="5"/><rect x="166" y="508" width="10" height="5"/><rect x="166" y="644" width="10" height="5"/><rect x="166" y="780" width="10" height="5"/><rect x="166" y="916" width="10" height="5"/><rect x="166" y="1052" width="10" height="5"/><rect x="319" y="1192" width="5" height="22"/><rect x="607" y="1192" width="5" height="22"/><rect x="895" y="1192" width="6" height="22"/><rect x="1183" y="1192" width="6" height="22"/><rect x="1472" y="1192" width="5" height="22"/><rect x="463" y="1192" width="5" height="10"/><rect x="751" y="1192" width="6" height="10"/><rect x="1039" y="1192" width="6" height="10"/><rect x="1328" y="1192" width="5" height="10"/></g>
<g filter="url(#bin)">
<g font-family="Liberation Sans, Arial, sans-serif" font-size="45" fill="#000"><text x="140" y="48" text-anchor="end" transform="translate(0,48) scale(1,1.04) translate(0,-48)">1.3</text><text x="140" y="184" text-anchor="end" transform="translate(0,184) scale(1,1.04) translate(0,-184)">1.2</text><text x="140" y="320" text-anchor="end" transform="translate(0,320) scale(1,1.04) translate(0,-320)">1.1</text><text x="140" y="456" text-anchor="end" transform="translate(0,456) scale(1,1.04) translate(0,-456)">1.0</text><text x="140" y="592" text-anchor="end" transform="translate(0,592) scale(1,1.04) translate(0,-592)">0.9</text><text x="140" y="728" text-anchor="end" transform="translate(0,728) scale(1,1.04) translate(0,-728)">0.8</text><text x="140" y="864" text-anchor="end" transform="translate(0,864) scale(1,1.04) translate(0,-864)">0.7</text><text x="140" y="1000" text-anchor="end" transform="translate(0,1000) scale(1,1.04) translate(0,-1000)">0.6</text><text x="140" y="1136" text-anchor="end" transform="translate(0,1136) scale(1,1.04) translate(0,-1136)">0.5</text><text x="323.0" y="1264" text-anchor="middle" transform="translate(0,1264) scale(1,1.04) translate(0,-1264)">7</text><text x="611.0" y="1264" text-anchor="middle" transform="translate(0,1264) scale(1,1.04) translate(0,-1264)">8</text><text x="899.0" y="1264" text-anchor="middle" transform="translate(0,1264) scale(1,1.04) translate(0,-1264)">9</text><text x="1187.0" y="1264" text-anchor="middle" transform="translate(0,1264) scale(1,1.04) translate(0,-1264)">10</text><text x="1475.0" y="1264" text-anchor="middle" transform="translate(0,1264) scale(1,1.04) translate(0,-1264)">11</text></g>
<text font-family="Liberation Sans, Arial, sans-serif" font-size="56" fill="#000" text-anchor="middle" transform="translate(53,612) rotate(-90) scale(1,1.04)">MIE (mJ)</text>
<text font-family="Liberation Sans, Arial, sans-serif" font-size="56" fill="#000" x="724" y="1351" transform="translate(0,1351) scale(1,1.04) translate(0,-1351)">[CH<tspan font-size="38" dx="1.5" dy="17">4</tspan><tspan dx="1.5" dy="-17" letter-spacing="-0.75">] / (%vol.)</tspan></text>
</g>
<rect x="452" y="161" width="974" height="162" fill="#fff" stroke="#000" stroke-width="2" shape-rendering="crispEdges"/>
<rect x="529" y="184" width="27" height="27" fill="#000"/>
<circle cx="542" cy="280.5" r="14.9" fill="#f00" shape-rendering="crispEdges"/>
<g filter="url(#bin)">
<text font-family="Liberation Sans, Arial, sans-serif" font-size="50" letter-spacing="0.39" fill="#000" x="612" y="214" transform="translate(0,214) scale(1,1.04) translate(0,-214)">MIE<tspan font-size="34" dy="14.5">exp.</tspan><tspan dy="-14.5">P</tspan><tspan font-size="34" dy="14.5">0</tspan><tspan dy="-14.5">=100 kPa, T</tspan><tspan font-size="34" dy="14.5">0</tspan><tspan dy="-14.5">=298 K</tspan></text>
<text font-family="Liberation Sans, Arial, sans-serif" font-size="50" letter-spacing="0.39" fill="#000" x="612" y="298" transform="translate(0,298) scale(1,1.04) translate(0,-298)">MIE<tspan font-size="34" dy="14.5">exp.</tspan><tspan dy="-14.5">P</tspan><tspan font-size="34" dy="14.5">0</tspan><tspan dy="-14.5">=100 kPa, T</tspan><tspan font-size="34" dy="14.5">0</tspan><tspan dy="-14.5">=298 K, <tspan font-size="34" dy="-22.5">60</tspan><tspan dy="22.5">Co</tspan></tspan></text>
</g>
</svg>
</body></html>
